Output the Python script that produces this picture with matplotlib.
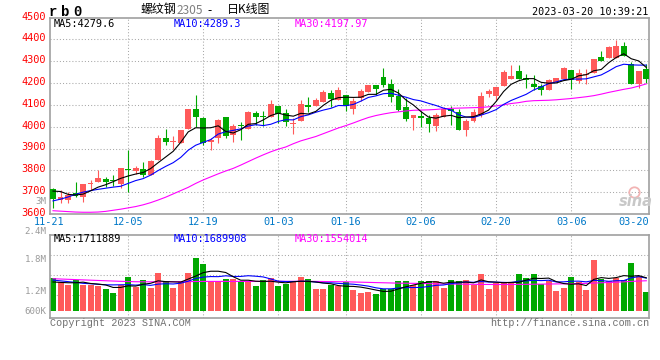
import matplotlib
matplotlib.use("Agg")
import matplotlib.pyplot as plt
from matplotlib.transforms import ScaledTranslation
import numpy as np

# ---------------- data ----------------
date_labels = ['11-21', '12-05', '12-19', '01-03', '01-16', '02-06', '02-20', '03-06', '03-20']
date_idx = [0, 10, 20, 30, 39, 49, 59, 69, 79]

opens = [3714, 3664, 3662, 3696, 3679, 3736, 3747, 3761, 3758, 3739,
         3805, 3799, 3805, 3779, 3847, 3946, 3929, 3927, 3989, 4083,
         4039, 3929, 3949, 4046, 3964, 4008, 3989, 4061, 4050, 4046,
         4096, 4061, 4012, 4024, 4100, 4096, 4115, 4152, 4123, 4146,
         4080, 4133, 4159, 4191, 4227, 4194, 4141, 4088, 4041, 4050,
         4038, 4005, 4046, 4080, 4068, 3986, 4027, 4055, 4149, 4141,
         4186, 4220, 4255, 4221, 4197, 4186, 4167, 4206, 4220, 4258,
         4209, 4235, 4244, 4318, 4315, 4315, 4371, 4289, 4194, 4265]
highs = [3720, 3712, 3702, 3746, 3736, 3755, 3800, 3770, 3777, 3811,
         3891, 3818, 3838, 3849, 3962, 3989, 3959, 3986, 4083, 4144,
         4042, 3950, 4035, 4046, 4012, 4020, 4073, 4073, 4070, 4123,
         4096, 4080, 4039, 4121, 4136, 4130, 4168, 4168, 4182, 4146,
         4133, 4171, 4192, 4191, 4270, 4217, 4171, 4133, 4053, 4073,
         4053, 4062, 4088, 4096, 4080, 4035, 4080, 4159, 4171, 4182,
         4258, 4284, 4284, 4239, 4235, 4194, 4220, 4224, 4273, 4258,
         4265, 4262, 4311, 4346, 4368, 4396, 4386, 4297, 4255, 4285]
lows = [3629, 3652, 3652, 3676, 3656, 3712, 3747, 3724, 3727, 3721,
        3702, 3782, 3770, 3779, 3847, 3915, 3899, 3927, 3989, 3997,
        3914, 3894, 3924, 3949, 3929, 3939, 3989, 4009, 4003, 4046,
        4017, 4005, 3967, 4024, 4065, 4096, 4115, 4088, 4123, 4073,
        4058, 4118, 4159, 4146, 4183, 4111, 4073, 4024, 3986, 3997,
        3974, 3979, 4046, 4008, 3986, 3955, 4023, 4046, 4138, 4123,
        4186, 4220, 4220, 4179, 4167, 4144, 4167, 4206, 4220, 4171,
        4202, 4197, 4244, 4303, 4315, 4315, 4323, 4194, 4179, 4202]
closes = [3670, 3679, 3689, 3682, 3736, 3742, 3764, 3747, 3749, 3811,
          3800, 3809, 3779, 3842, 3947, 3929, 3936, 3986, 4083, 4042,
          3924, 3939, 4030, 3955, 4005, 4002, 4065, 4042, 4042, 4103,
          4058, 4020, 4017, 4106, 4088, 4121, 4159, 4129, 4168, 4096,
          4118, 4164, 4192, 4171, 4191, 4138, 4077, 4035, 4053, 4041,
          4012, 4055, 4080, 4073, 3986, 4024, 4065, 4141, 4164, 4182,
          4252, 4232, 4220, 4212, 4183, 4167, 4212, 4224, 4270, 4212,
          4246, 4239, 4311, 4303, 4365, 4368, 4323, 4194, 4255, 4217]

ma5 = [3705, 3703, 3690, 3687, 3691, 3706, 3723, 3734, 3748, 3763,
       3774, 3783, 3790, 3808, 3835, 3861, 3887, 3928, 3976, 3995,
       3994, 3995, 4004, 3978, 3971, 3986, 4011, 4014, 4031, 4051,
       4062, 4053, 4048, 4061, 4058, 4070, 4098, 4121, 4133, 4135,
       4134, 4135, 4148, 4148, 4167, 4171, 4154, 4122, 4099, 4069,
       4044, 4039, 4048, 4052, 4041, 4044, 4046, 4058, 4076, 4115,
       4161, 4194, 4210, 4220, 4220, 4203, 4199, 4200, 4211, 4217,
       4233, 4238, 4256, 4262, 4293, 4317, 4334, 4311, 4301, 4271]
ma10 = [3660, 3668, 3678, 3690, 3700, 3707, 3713, 3718, 3723, 3727,
        3740, 3753, 3762, 3778, 3799, 3818, 3835, 3859, 3892, 3915,
        3928, 3941, 3966, 3977, 3983, 3990, 4003, 4009, 4005, 4011,
        4024, 4032, 4031, 4046, 4054, 4066, 4076, 4084, 4097, 4096,
        4102, 4117, 4134, 4141, 4151, 4153, 4144, 4135, 4124, 4118,
        4107, 4097, 4085, 4076, 4055, 4044, 4042, 4053, 4064, 4078,
        4102, 4120, 4134, 4148, 4168, 4182, 4197, 4205, 4215, 4218,
        4218, 4219, 4228, 4237, 4255, 4275, 4286, 4283, 4282, 4282]
ma30 = [3615, 3613, 3611, 3609, 3608, 3608, 3609, 3612, 3617, 3622,
        3628, 3634, 3642, 3652, 3664, 3677, 3692, 3707, 3722, 3740,
        3756, 3770, 3784, 3797, 3809, 3824, 3840, 3856, 3871, 3885,
        3897, 3907, 3922, 3935, 3945, 3955, 3968, 3981, 3994, 4005,
        4017, 4030, 4042, 4051, 4058, 4064, 4068, 4072, 4075, 4076,
        4077, 4079, 4082, 4084, 4085, 4086, 4087, 4088, 4091, 4095,
        4100, 4106, 4110, 4116, 4119, 4120, 4121, 4123, 4126, 4129,
        4133, 4137, 4142, 4149, 4157, 4164, 4171, 4177, 4186, 4196]

# volume in thousand lots
volume = [1682, 1474, 1334, 1593, 1334, 1334, 1308, 1126, 934, 1334,
          1749, 1246, 1593, 1194, 1972, 1541, 1178, 1541, 1972, 2751,
          2439, 1541, 1541, 1645, 1645, 1541, 1541, 1282, 1593, 1697,
          1282, 1386, 1541, 1749, 1645, 1126, 1126, 1334, 1282, 1474,
          1090, 934, 986, 882, 1111, 1142, 1541, 1541, 1334, 1541,
          1541, 1541, 1178, 1593, 1541, 1593, 1334, 1920, 1126, 1438,
          1438, 1438, 1920, 1697, 1920, 1386, 1541, 1022, 1178, 1749,
          1490, 1074, 2631, 1645, 1541, 1697, 1593, 2476, 1801, 971]
vol_ma5 = [1490, 1470, 1450, 1450, 1483, 1414, 1381, 1339, 1207, 1207,
           1290, 1278, 1371, 1423, 1551, 1509, 1496, 1485, 1641, 1797,
           1976, 2049, 2049, 1983, 1762, 1583, 1583, 1531, 1520, 1531,
           1479, 1448, 1500, 1531, 1521, 1489, 1437, 1396, 1303, 1268,
           1261, 1223, 1153, 1073, 1001, 1011, 1132, 1243, 1334, 1420,
           1500, 1500, 1427, 1479, 1479, 1489, 1448, 1596, 1503, 1482,
           1451, 1472, 1472, 1586, 1683, 1672, 1693, 1513, 1409, 1375,
           1396, 1303, 1624, 1718, 1676, 1718, 1821, 1790, 1822, 1708]
vol_ma10 = [1590, 1550, 1510, 1470, 1420, 1400, 1370, 1345, 1340, 1345,
            1352, 1329, 1355, 1315, 1379, 1400, 1387, 1428, 1532, 1674,
            1743, 1772, 1767, 1812, 1779, 1779, 1816, 1790, 1752, 1647,
            1531, 1515, 1515, 1526, 1526, 1484, 1443, 1448, 1417, 1395,
            1375, 1330, 1275, 1188, 1135, 1136, 1178, 1198, 1204, 1210,
            1255, 1316, 1335, 1406, 1449, 1494, 1474, 1512, 1491, 1481,
            1470, 1460, 1534, 1545, 1582, 1562, 1582, 1493, 1498, 1529,
            1534, 1498, 1569, 1564, 1526, 1557, 1562, 1707, 1770, 1692]
vol_ma30 = [1660, 1645, 1630, 1615, 1600, 1585, 1570, 1555, 1540, 1525,
            1515, 1505, 1500, 1500, 1500, 1500, 1505, 1505, 1510, 1515,
            1520, 1520, 1520, 1520, 1520, 1520, 1520, 1520, 1520, 1525,
            1525, 1525, 1525, 1525, 1525, 1520, 1515, 1510, 1505, 1500,
            1490, 1480, 1470, 1460, 1450, 1440, 1430, 1425, 1420, 1415,
            1405, 1395, 1390, 1385, 1380, 1375, 1370, 1365, 1362, 1360,
            1360, 1362, 1365, 1370, 1375, 1380, 1385, 1390, 1395, 1400,
            1410, 1420, 1435, 1450, 1465, 1480, 1500, 1520, 1540, 1554]

price_ticks = [3600, 3700, 3800, 3900, 4000, 4100, 4200, 4300, 4400, 4500]
vol_axis_labels = ['3M', '2.4M', '1.8M', '1.2M', '600K']
vol_axis_label_py = [201, 231.5, 260, 291, 311]   # where sina prints them (px)

# ---------------- layout helpers ----------------
W, H = 660, 360


def fx(px):
    return px / W


def fy(py):
    return 1 - py / H


MONO = 'DejaVu Sans Mono'
RED = '#ff5a5a'
GREEN = '#00a800'
GRID = '#a8a8a8'
FRAME = '#a0a0a0'

fig = plt.figure(figsize=(6.6, 3.6), dpi=100)
fig.patch.set_facecolor('white')

left, right = 50, 649.3
ax = fig.add_axes([fx(left), fy(214), (right - left) / W, (214 - 17.5) / H])
axv = fig.add_axes([fx(left), fy(318.3), (right - left) / W, (318.3 - 234.5) / H])

x = np.arange(len(closes))
o = np.array(opens)
c = np.array(closes)
cols = np.where(c >= o, RED, GREEN)

# ---------------- price panel ----------------
for yv in price_ticks[1:-1]:
    ax.axhline(yv, color=GRID, lw=0.75, ls=(0, (1, 2)), zorder=0)
for xi in date_idx[1:-1]:
    ax.axvline(xi, color=GRID, lw=0.75, ls=(0, (1, 2)), zorder=0)

ax.vlines(x, lows, highs, colors=cols, linewidth=0.8, zorder=2)
body_lo = np.minimum(o, c)
body_h = np.maximum(np.abs(c - o), 4.5)
ax.bar(x, body_h, bottom=body_lo, width=0.78, color=cols, linewidth=0, zorder=3)

ax.plot(x, ma30, color='#ff00ff', lw=0.8, zorder=4)
ax.plot(x, ma10, color='#0000ff', lw=0.8, zorder=4)
ax.plot(x, ma5, color='black', lw=0.8, zorder=5)

ax.set_xlim(-0.4, 79.4)
ax.set_ylim(3600, 4500)
ax.set_yticks(price_ticks)
ax.set_yticklabels([str(t) for t in price_ticks], color='#ff0000',
                   fontfamily=MONO, fontsize=7.4)
ax.set_xticks(date_idx)
ax.set_xticklabels(date_labels, color='#0078c8', fontfamily=MONO, fontsize=7.4)
ax.tick_params(axis='both', length=0)
ax.tick_params(axis='y', pad=3)
ax.tick_params(axis='x', pad=2.5)
up2 = ScaledTranslation(0, 2 / 100, fig.dpi_scale_trans)
for lab in ax.get_yticklabels():
    lab.set_transform(lab.get_transform() + up2)
xl = ax.get_xticklabels()
xl[0].set_transform(xl[0].get_transform() + ScaledTranslation(-4 / 100, 0, fig.dpi_scale_trans))
xl[-1].set_horizontalalignment('right')
xl[-1].set_transform(xl[-1].get_transform() + ScaledTranslation(3 / 100, 0, fig.dpi_scale_trans))
for sp in ax.spines.values():
    sp.set_color(FRAME)
    sp.set_linewidth(1.2)

# ---------------- volume panel ----------------
for f in (0.755, 0.517, 0.278):
    axv.plot([0, 1], [f, f], transform=axv.transAxes, color=GRID, lw=0.75,
             ls=(0, (1, 2)), zorder=0)
for xi in date_idx[1:-1]:
    axv.axvline(xi, color=GRID, lw=0.75, ls=(0, (1, 2)), zorder=0)

axv.bar(x, volume, width=0.8, color=cols, linewidth=0, zorder=2)
axv.plot(x, vol_ma30, color='#ff00ff', lw=0.8, zorder=3)
axv.plot(x, vol_ma10, color='#0000ff', lw=0.8, zorder=3)
axv.plot(x, vol_ma5, color='black', lw=0.8, zorder=4)
axv.set_xlim(-0.4, 79.4)
axv.set_ylim(-394, 3955)
axv.set_xticks([])
axv.set_yticks([])
for sp in axv.spines.values():
    sp.set_color(FRAME)
    sp.set_linewidth(1.2)

for lab, py in zip(vol_axis_labels, vol_axis_label_py):
    fig.text(fx(46.5), fy(py), lab, ha='right', va='center', color='#9a9a9a',
             fontfamily=MONO, fontsize=6.6)

# ---------------- texts ----------------
for ch, px in zip('rb0', (49, 61, 73)):
    fig.text(fx(px), fy(12), ch, ha='left', va='center', fontfamily='Liberation Mono',
             fontweight='bold', fontsize=10, color='black')
cjk = ['Noto Sans CJK SC', 'DejaVu Sans']
fig.text(fx(140.5), fy(10), '螺纹钢', ha='left', va='center', family=cjk, fontsize=8.6)
fig.text(fx(176.5), fy(10.5), '2305', ha='left', va='center', family=cjk, fontsize=8.6,
         color='#808080')
fig.text(fx(207), fy(10.5), '-', ha='left', va='center', family=cjk, fontsize=8.6)
fig.text(fx(226.5), fy(10), '日K线图', ha='left', va='center', family=cjk, fontsize=8.6)
fig.text(fx(648.5), fy(12), '2023-03-20 10:39:21', ha='right', va='center',
         fontfamily=MONO, fontsize=7.3, color='black')

fig.text(fx(54), fy(24), 'MA5:4279.6', ha='left', va='center', fontfamily=MONO,
         fontsize=7.4, color='black')
fig.text(fx(174), fy(24), 'MA10:4289.3', ha='left', va='center', fontfamily=MONO,
         fontsize=7.4, color='#0000ff')
fig.text(fx(295), fy(24), 'MA30:4197.97', ha='left', va='center', fontfamily=MONO,
         fontsize=7.4, color='#ff00ff')

fig.text(fx(54), fy(238.5), 'MA5:1711889', ha='left', va='center', fontfamily=MONO,
         fontsize=7.4, color='black')
fig.text(fx(174), fy(238.5), 'MA10:1689908', ha='left', va='center', fontfamily=MONO,
         fontsize=7.4, color='#0000ff')
fig.text(fx(295), fy(238.5), 'MA30:1554014', ha='left', va='center', fontfamily=MONO,
         fontsize=7.4, color='#ff00ff')

fig.text(fx(50), fy(323.5), 'Copyright 2023 SINA.COM', ha='left', va='center',
         fontfamily='Liberation Mono', fontsize=7.3, color='#707070')
fig.text(fx(649), fy(323.5), 'http://finance.sina.com.cn', ha='right', va='center',
         fontfamily='Liberation Mono', fontsize=7.3, color='#707070')

# sina watermark
fig.text(fx(636), fy(202), 'sina', ha='center', va='center', fontsize=10.5,
         fontweight='bold', fontstyle='italic', color='#c8c8c8')
fig.lines.append(plt.Line2D([fx(633.5)], [fy(191.5)], transform=fig.transFigure,
                            marker='o', ms=7.5, mfc='none', mec='#f2b4b4', mew=1.3))

fig.savefig('out.png', dpi=100, facecolor='white')
